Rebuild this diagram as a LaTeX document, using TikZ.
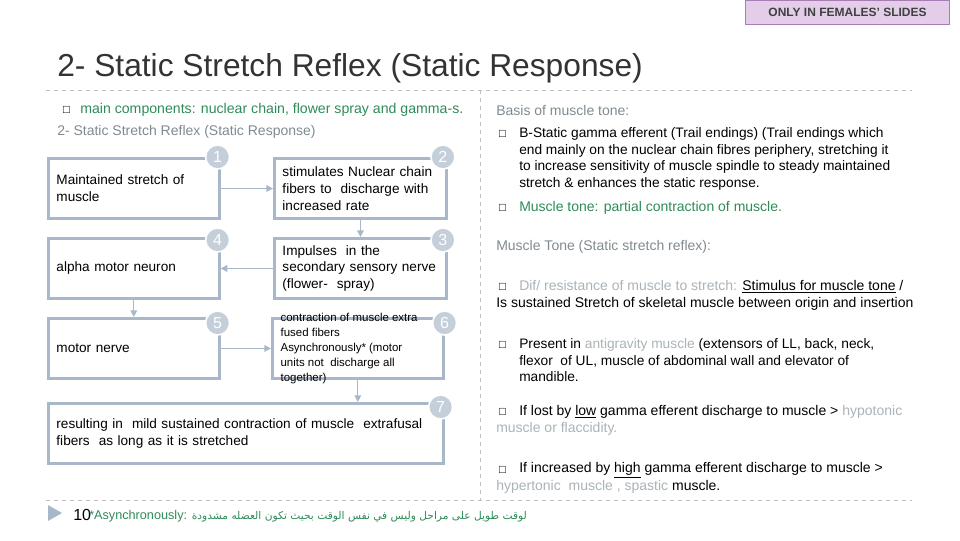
\documentclass[tikz,border=0pt]{standalone}
\usepackage{amssymb}
\usepackage{fontspec}
\setmainfont{Liberation Sans}
\newfontfamily\arabicfont[Script=Arabic]{DejaVu Sans}
\TeXXeTstate=1
\usetikzlibrary{arrows.meta}
\definecolor{bx}{HTML}{A8B8C8}
\definecolor{cf}{HTML}{C4CFDA}
\definecolor{gr}{HTML}{2E8B57}
\definecolor{gy}{HTML}{7F8A90}
\definecolor{lg}{HTML}{A9B3B8}
\definecolor{pu}{HTML}{E4CDE9}
\definecolor{pub}{HTML}{A87DB5}
\definecolor{dl}{HTML}{BFBFBF}
\tikzset{
 fbox/.style={draw=bx,line width=2.2pt,anchor=north west,align=left,inner xsep=6pt,font=\fontsize{10.2}{12.6}\selectfont},
 numc/.style={circle,fill=cf,draw=white,line width=1.2pt,minimum size=18pt,inner sep=0pt,text=white,font=\fontsize{12}{12}\selectfont},
 conn/.style={draw=bx,line width=1pt,-{Triangle[length=5pt,width=5pt]}},
 tl/.style={anchor=west,inner sep=0pt,font=\fontsize{10.5}{12.6}\selectfont},
 bul/.style={anchor=west,inner sep=0pt,font=\fontsize{7}{7}\selectfont}
}
\begin{document}
\begin{tikzpicture}[x=0.75pt,y=-0.75pt]
\useasboundingbox (0,0) rectangle (960,540);
% badge
\node[draw=pub,fill=pu,line width=0.8pt,minimum width=153pt,minimum height=18pt,anchor=north west,font=\bfseries\fontsize{9}{9}\selectfont,text=black!75] (badge) at (745,0) {ONLY IN FEMALES’ SLIDES};
% title
\node[anchor=west,inner sep=0pt,font=\fontsize{23.8}{24}\selectfont,text=black!80] (title) at (57,68) {2- Static Stretch Reflex (Static Response)};
% dashed rules
\draw[dl,dashed,line width=0.6pt] (46,90) -- (912,90);
\draw[dl,dashed,line width=0.6pt] (480,90) -- (480,500);
\draw[dl,dashed,line width=0.6pt] (46,500) -- (912,500);
% left texts
\node[bul] (lb) at (62,110) {$\square$};
\node[tl,text=gr,font=\fontsize{10.6}{12}\selectfont] (lt1) at (80,110) {main components: nuclear chain, flower spray and gamma-s.};
\node[tl,text=gy] (lt2) at (57,132) {2- Static Stretch Reflex (Static Response)};
% boxes
\node[fbox,minimum width=128pt,minimum height=45pt,text width=116pt] (b1) at (47,157) {Maintained stretch of\\muscle};
\node[fbox,minimum width=129pt,minimum height=45pt,text width=117pt] (b2) at (273,157) {stimulates Nuclear chain\\fibers to\ \ discharge with\\increased rate};
\node[fbox,minimum width=128pt,minimum height=45pt,text width=116pt] (b4) at (47,237) {alpha motor neuron};
\node[fbox,minimum width=129pt,minimum height=45pt,text width=117pt] (b3) at (273,237) {Impulses\ \ in the\\secondary sensory nerve\\(flower-\ \ spray)};
\node[fbox,minimum width=128pt,minimum height=45pt,text width=116pt] (b5) at (47,317) {motor nerve};
\node[fbox,minimum width=128pt,minimum height=45pt] (b6) at (271,317) {};
\node[anchor=west,align=left,inner sep=0pt,font=\fontsize{8.6}{11.3}\selectfont] (t6) at ([xshift=7]b6.west) {contraction of muscle extra\\fused fibers\\Asynchronously* (motor\\units not\ \ discharge all\\together)};
\node[fbox,minimum width=296pt,minimum height=45pt,text width=284pt] (b7) at (47,402) {resulting in\ \ mild sustained contraction of muscle\ \ extrafusal\\fibers\ \ as long as it is stretched};
% connectors
\draw[conn] (b1.east) -- (b2.west);
\draw[conn] (b2.south) -- (b3.north);
\draw[conn] (b3.west) -- (b4.east);
\draw[conn] (b4.south) -- (b5.north);
\draw[conn] (b5.east) -- (b6.west);
\draw[conn] (b6.south) -- (b6.south |- b7.north);
% numbers
\node[numc] (c1) at ([shift={(-3,0)}]b1.north east) {1};
\node[numc] (c2) at ([shift={(-5,0)}]b2.north east) {2};
\node[numc] (c3) at ([shift={(-5,3)}]b3.north east) {3};
\node[numc] (c4) at ([shift={(-3,3)}]b4.north east) {4};
\node[numc] (c5) at ([shift={(-3,6)}]b5.north east) {5};
\node[numc] (c6) at ([shift={(0,6)}]b6.north east) {6};
\node[numc] (c7) at ([shift={(-4,5)}]b7.north east) {7};
% right column
\node[tl,text=gy] (r1) at (496,110) {Basis of muscle tone:};
\node[bul] (rb1) at (498,134) {$\square$};
\node[anchor=north west,inner sep=0pt,align=left,font=\fontsize{10.3}{12.6}\selectfont] (r2) at (519,127) {B-Static gamma efferent (Trail endings) (Trail endings which\\end mainly on the nuclear chain fibres periphery, stretching it\\to increase sensitivity of muscle spindle to steady maintained\\stretch \& enhances the static response.};
\node[bul] (rb2) at (498,208) {$\square$};
\node[tl,text=gr] (r3) at (519,208) {Muscle tone: partial contraction of muscle.};
\node[tl,text=gy] (r4) at (496,247) {Muscle Tone (Static stretch reflex):};
\node[bul] (rb3) at (498,287) {$\square$};
\node[tl] (r5) at (519,287) {\textcolor{lg}{Dif/ resistance of muscle to stretch:} \underline{Stimulus for muscle tone} /};
\node[tl] (r6) at (496,304) {Is sustained Stretch of skeletal muscle between origin and insertion};
\node[bul] (rb4) at (498,345) {$\square$};
\node[anchor=north west,inner sep=0pt,align=left,font=\fontsize{10.3}{12.6}\selectfont] (r7) at (519,338) {Present in \textcolor{lg}{antigravity muscle} (extensors of LL, back, neck,\\flexor\ \ of UL, muscle of abdominal wall and elevator of\\mandible.};
\node[bul] (rb5) at (498,412) {$\square$};
\node[tl] (r8) at (519,412) {If lost by \underline{low} gamma efferent discharge to muscle > \textcolor{lg}{hypotonic}};
\node[tl,text=lg] (r9) at (496,429) {muscle or flaccidity.};
\node[bul] (rb6) at (498,470) {$\square$};
\node[tl] (r10) at (519,470) {If increased by \underline{high} gamma efferent discharge to muscle >};
\node[tl] (r11) at (496,487) {\textcolor{lg}{hypertonic\ \ muscle , spastic} muscle.};
% footer
\fill[bx] (48,505) -- (62,513) -- (48,521) -- cycle;
\node[anchor=west,inner sep=0pt,font=\fontsize{12}{12}\selectfont] (pg) at (73,515) {10};
\node[anchor=west,inner sep=0pt,font=\fontsize{9.5}{12}\selectfont,text=gr] (ft) at (89,516) {*Asynchronously: {\arabicfont\fontsize{8}{10}\selectfont\beginR لوقت طويل على مراحل وليس في نفس الوقت بحيث تكون العضله مشدودة\endR}};
\end{tikzpicture}
\end{document}
